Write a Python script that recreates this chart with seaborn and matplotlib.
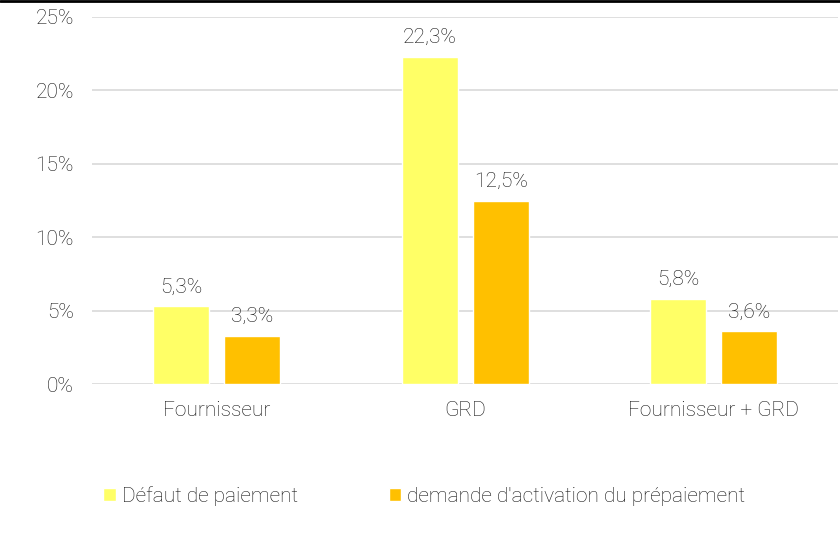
import pandas as pd
import matplotlib.pyplot as plt
import matplotlib.lines as mlines
import seaborn as sns

# Données
categories = ['Fournisseur', 'GRD', 'Fournisseur + GRD']
defaut_paiement = [5.3, 22.3, 5.8]
demande_activation = [3.3, 12.5, 3.6]
series = ['Défaut de paiement', "demande d'activation du prépaiement"]
couleurs = ['#FFFF66', '#FFC000']

df = pd.DataFrame({
    'Categorie': categories * 2,
    'Serie': [series[0]] * 3 + [series[1]] * 3,
    'Valeur': defaut_paiement + demande_activation,
})

sns.set_style('white')
plt.rcParams['font.family'] = ['Roboto', 'DejaVu Sans']
plt.rcParams['font.weight'] = 'light'

texte = '#111111'
fs = 15

fig = plt.figure(figsize=(8.4, 5.59), dpi=100)
ax = fig.add_axes([0.1095, 0.313, 0.8885, 0.6566])

sns.barplot(data=df, x='Categorie', y='Valeur', hue='Serie', palette=couleurs,
            saturation=1, width=0.57, gap=0.21, ax=ax, legend=True)

# Etiquettes des valeurs
for cont in ax.containers:
    labels = [f'{v:.1f}%'.replace('.', ',') for v in cont.datavalues]
    ax.bar_label(cont, labels=labels, padding=7, fontsize=fs, color=texte,
                 fontweight='light')

ax.set_ylim(0, 25)
ax.set_xlim(-0.5, 2.5)
ax.set_yticks(range(0, 26, 5))
ax.set_yticklabels([f'{t}%' for t in range(0, 26, 5)])
ax.yaxis.grid(True, color='#D9D9D9', linewidth=1.2)
ax.set_axisbelow(True)
for s in ax.spines.values():
    s.set_visible(False)
ax.tick_params(axis='both', length=0, labelsize=fs, labelcolor=texte)
ax.tick_params(axis='y', pad=13)
ax.tick_params(axis='x', pad=12)
ax.set_xlabel('')
ax.set_ylabel('')

# Légende en bas
handles, labs = ax.get_legend_handles_labels()
ax.legend(handles, labs, loc='center left', bbox_to_anchor=(-0.01, -0.305),
          ncol=2, frameon=False, fontsize=fs, handlelength=0.6, handleheight=0.6,
          handletextpad=0.3, columnspacing=4.35, labelcolor=texte)

# Trait noir en haut
fig.add_artist(mlines.Line2D([0, 1], [0.998, 0.998], color='black', linewidth=2,
                             transform=fig.transFigure))

fig.savefig('out.png', dpi=100)
